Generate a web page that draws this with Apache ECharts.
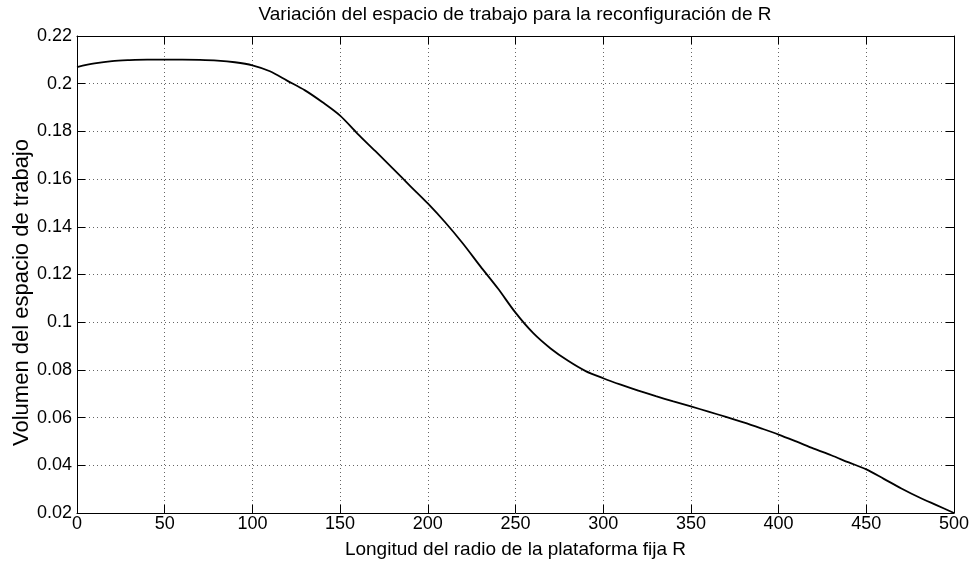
<!DOCTYPE html>
<html>
<head>
<meta charset="utf-8">
<script src="https://cdn.jsdelivr.net/npm/echarts@6/dist/echarts.min.js"></script>
<style>html,body{margin:0;padding:0;background:#fff;}#c{width:974px;height:562px;}</style>
</head>
<body>
<div id="c"></div>
<script>
const titleText = 'Variación del espacio de trabajo para la reconfiguración de R';
const xName = 'Longitud del radio de la plataforma fija R';
const yName = 'Volumen del espacio de trabajo';
const radio = [0,10,20,30,40,50,60,70,80,90,100,110,120,130,140,150,160,170,180,190,200,210,220,230,240,250,260,270,280,290,300,310,320,330,340,350,360,370,380,390,400,410,420,430,440,450,460,470,480,490,500];
const volumen = [0.2070,0.2085,0.2095,0.2099,0.2101,0.2101,0.2101,0.2100,0.2097,0.2090,0.2077,0.2052,0.2012,0.1972,0.1922,0.1866,0.1790,0.1718,0.1645,0.1571,0.1498,0.1418,0.1330,0.1234,0.1141,0.1040,0.0955,0.0890,0.0838,0.0795,0.0765,0.0738,0.0713,0.0690,0.0668,0.0647,0.0625,0.0603,0.0580,0.0555,0.0529,0.0500,0.0470,0.0442,0.0412,0.0383,0.0343,0.0303,0.0266,0.0233,0.0200];
const xTicks = {min:0, max:500, step:50};
const yTicks = {min:0.02, max:0.22, step:0.02};

const font = 'Liberation Sans, Arial, sans-serif';
const chart = echarts.init(document.getElementById('c'), null, {renderer:'canvas'});
const axisLine = {show:true, onZero:false, lineStyle:{color:'#000', width:1}};
const tick = {show:true, inside:true, length:8, lineStyle:{color:'#000'}};
const grid = {show:true, lineStyle:{color:'#666', type:[1,3], width:1}};
chart.setOption({
  backgroundColor:'#fff',
  animation:false,
  title:{text:titleText, left:515, textAlign:'center', top:5, padding:0,
    textStyle:{fontFamily:font, fontSize:19, fontWeight:'normal', color:'#000'}},
  grid:{left:77, right:20, top:36, bottom:49, containLabel:false, outerBoundsMode:'none'},
  xAxis:[
    {type:'value', position:'bottom', min:xTicks.min, max:xTicks.max, interval:xTicks.step,
     name:xName, nameLocation:'middle', nameGap:27, nameMoveOverlap:false,
     nameTextStyle:{fontFamily:font, fontSize:19, color:'#000'},
     axisLine, axisTick:tick, splitLine:grid,
     axisLabel:{fontFamily:font, fontSize:18, color:'#000', margin:2}},
    {type:'value', position:'top', min:xTicks.min, max:xTicks.max, interval:xTicks.step,
     axisLine, axisTick:tick, splitLine:{show:false}, axisLabel:{show:false}}
  ],
  yAxis:[
    {type:'value', position:'left', min:yTicks.min, max:yTicks.max, interval:yTicks.step,
     name:yName, nameLocation:'middle', nameGap:44, nameRotate:90, nameMoveOverlap:false,
     nameTextStyle:{fontFamily:font, fontSize:22, color:'#000', padding:[0,36,0,0]},
     axisLine, axisTick:tick, splitLine:grid,
     axisLabel:{fontFamily:font, fontSize:18, color:'#000', margin:5,
       formatter:v => String(parseFloat(v.toFixed(2)))}},
    {type:'value', position:'right', min:yTicks.min, max:yTicks.max, interval:yTicks.step,
     axisLine, axisTick:tick, splitLine:{show:false}, axisLabel:{show:false}}
  ],
  series:[{
    type:'line', xAxisIndex:0, yAxisIndex:0, showSymbol:false, smooth:0.3,
    data: radio.map((r,i)=>[r, volumen[i]]),
    lineStyle:{color:'#000', width:1.8}
  }]
});
</script>
</body>
</html>
